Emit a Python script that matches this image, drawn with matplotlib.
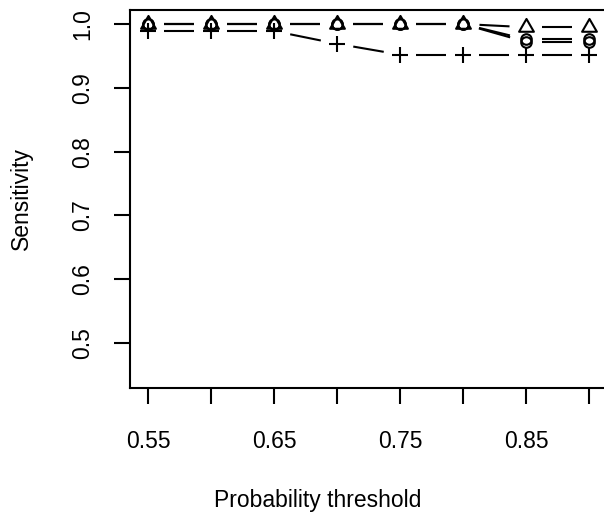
import numpy as np
import matplotlib.pyplot as plt
from matplotlib.path import Path

plt.rcParams["font.family"] = ["Liberation Sans", "DejaVu Sans"]

thresholds = [0.55, 0.60, 0.65, 0.70, 0.75, 0.80, 0.85, 0.90]
sens_triangle = [1.0, 1.0, 1.0, 1.0, 1.0, 1.0, 0.995, 0.995]
sens_circle = [1.0, 1.0, 1.0, 1.0, 1.0, 1.0, 0.976, 0.976]
sens_circle2 = [1.0, 1.0, 1.0, 1.0, 1.0, 1.0, 0.972, 0.972]
sens_plus = [0.989, 0.989, 0.989, 0.969, 0.952, 0.952, 0.952, 0.952]

x_ticks = [0.55, 0.60, 0.65, 0.70, 0.75, 0.80, 0.85, 0.90]
x_labels = ["0.55", "", "0.65", "", "0.75", "", "0.85", ""]
y_ticks = [0.5, 0.6, 0.7, 0.8, 0.9, 1.0]
y_labels = ["0.5", "0.6", "0.7", "0.8", "0.9", "1.0"]

W, H = 604, 518
fig = plt.figure(figsize=(W / 100, H / 100), dpi=100)
ax_left, ax_right, ax_top, ax_bottom = 130, 634, 10, 388
ax = fig.add_axes([ax_left / W, 1 - ax_bottom / H,
                   (ax_right - ax_left) / W, (ax_bottom - ax_top) / H])

# pixel scale
px_x = 1260.0
px_y = 638.0
ax.set_xlim(0.55 - (148 - ax_left) / px_x, 0.55 + (ax_right - 148) / px_x)
ax.set_ylim(0.5 - (ax_bottom - 343) / px_y, 1.0 + (24 - ax_top) / px_y)

# R-like pch 2 triangle (centered at centroid)
tri = Path([(0, 1.555), (-1.3468, -0.7776), (1.3468, -0.7776), (0, 1.555)],
           [Path.MOVETO, Path.LINETO, Path.LINETO, Path.CLOSEPOLY])

lw = 1.5
gap_px = 16.5


def broken_line(xs, ys):
    # type="b": segments between points with a gap round each point
    pts = ax.transData.transform(np.column_stack([xs, ys]))
    inv = ax.transData.inverted()
    for (x0, y0), (x1, y1) in zip(pts[:-1], pts[1:]):
        dx, dy = x1 - x0, y1 - y0
        d = np.hypot(dx, dy)
        if d <= 2 * gap_px:
            continue
        f = gap_px / d
        a = inv.transform((x0 + f * dx, y0 + f * dy))
        b = inv.transform((x1 - f * dx, y1 - f * dy))
        ax.plot([a[0], b[0]], [a[1], b[1]], color="black", lw=lw,
                solid_capstyle="butt")


series = [
    (sens_triangle, tri, 12.3),
    (sens_circle, "o", 7.6),
    (sens_circle2, "o", 7.6),
    (sens_plus, "+", 11.0),
]
for vals, marker, ms in series:
    broken_line(thresholds, vals)
    ax.plot(thresholds, vals, linestyle="none", marker=marker, ms=ms,
            mfc="none", mec="black", mew=lw)

for side in ["top", "left", "bottom", "right"]:
    ax.spines[side].set_linewidth(lw)
    ax.spines[side].set_color("black")

ax.set_xticks(x_ticks)
ax.set_xticklabels(x_labels, fontsize=16.5)
ax.set_yticks(y_ticks)
ax.set_yticklabels(y_labels, fontsize=16.5, rotation=90, va="center")
ax.tick_params(axis="both", direction="out", length=11.5, width=lw, colors="black")
ax.tick_params(axis="x", pad=18.5)
ax.tick_params(axis="y", pad=14)

fig.text(317.5 / W, 1 - 501 / H, "Probability threshold", fontsize=16.5,
         ha="center", va="center")
fig.text(21 / W, 1 - 199 / H, "Sensitivity", fontsize=16.5, rotation=90,
         ha="center", va="center")

fig.savefig("out.png", dpi=100)
